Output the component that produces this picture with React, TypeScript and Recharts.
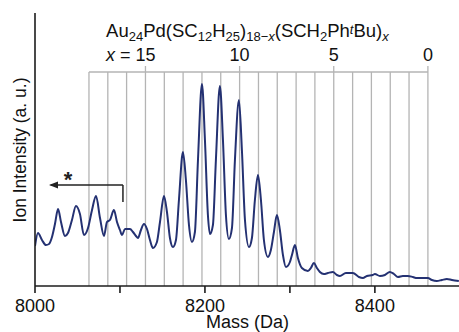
import React from 'react';
import { LineChart, Line, XAxis, YAxis, ReferenceLine, ReferenceDot } from 'recharts';

// Spectrum (mass in Da, intensity in arbitrary units)
const massValues = [
  8000, 8003.5, 8008.2, 8012.9, 8016.5, 8020, 8023.5, 8027.1, 8030.6, 8035.3,
  8038.8, 8043.5, 8048.2, 8052.9, 8057.6, 8062.4, 8067.1, 8071.8, 8076.5, 8081.2,
  8084.7, 8088.2, 8092.9, 8096.5, 8100, 8102.4, 8105.9, 8111.8, 8115.3, 8118.8,
  8121.2, 8124.7, 8128.2, 8131.8, 8135.3, 8138.8, 8143.5, 8147.1, 8151.8, 8155.3,
  8158.8, 8162.4, 8165.9, 8169.4, 8174.1, 8177.6, 8181.2, 8184.7, 8188.2, 8191.8,
  8196.5, 8200, 8203.5, 8205.9, 8209.4, 8212.9, 8217.6, 8221.2, 8224.7, 8228.2,
  8231.8, 8235.3, 8240, 8243.5, 8247.1, 8251.8, 8255.3, 8258.8, 8262.4, 8265.9,
  8269.4, 8274.1, 8277.6, 8281.2, 8284.7, 8288.2, 8291.8, 8295.3, 8300, 8302.4,
  8305.9, 8309.4, 8314.1, 8321.2, 8324.7, 8328.2, 8331.8, 8335.3, 8340, 8344.7,
  8350.6, 8355.3, 8358.8, 8365.9, 8374.1, 8381.2, 8385.9, 8390.6, 8397.6, 8400,
  8405.9, 8411.8, 8417.6, 8422.4, 8427.1, 8432.9, 8438.8, 8444.7, 8449.4, 8455.3,
  8462.4, 8467.1, 8472.9, 8478.8, 8484.7, 8490.6, 8498.8,
];
const intensityValues = [
  40, 53, 46, 41, 42, 49, 62, 77, 64, 50,
  53, 66, 80, 72, 51, 58, 76, 90, 68, 50,
  64, 66, 76, 64, 56, 51, 57, 57, 54, 50,
  48, 56, 62, 57, 46, 38, 44, 64, 90, 74,
  48, 39, 46, 86, 134, 106, 61, 44, 54, 126,
  202, 146, 71, 52, 61, 126, 200, 146, 71, 47,
  58, 126, 186, 136, 66, 39, 48, 86, 111, 86,
  46, 29, 36, 54, 71, 56, 31, 19, 24, 31,
  41, 28, 18, 15, 18, 23, 18, 14, 12, 13,
  14, 11, 10, 13, 13, 9, 8, 10, 11, 12,
  10, 11, 14, 12, 9, 10, 10, 9, 8, 8,
  8, 6, 5, 6, 7, 6, 5,
];

// Composition markers: x = number of SCH2PhtBu ligands, and the matching mass
const ligandCounts = [18, 17, 16, 15, 14, 13, 12, 11, 10, 9, 8, 7, 6, 5, 4, 3, 2, 1, 0];
const ligandMasses = [
  8063.5, 8085.7, 8107.8, 8130.0, 8152.2, 8174.3, 8196.5, 8218.6, 8240.8, 8263.0,
  8285.1, 8307.3, 8329.4, 8351.6, 8373.8, 8395.9, 8418.1, 8440.2, 8462.4,
];
const labeledCounts = [15, 10, 5, 0];

const xTicks = [8000, 8100, 8200, 8300, 8400];
const xTickLabels = ['8000', '', '8200', '', '8400'];

const data = massValues.map((m, i) => ({ mass: m, intensity: intensityValues[i] }));
const massOf = (c: number) => ligandMasses[ligandCounts.indexOf(c)];

const FONT = '"Liberation Sans", Arial, Helvetica, sans-serif';
const X_MIN = 8000;
const X_MAX = 8499;
const Y_MAX = 273;
const BRACKET_Y = 214;
const BRACKET_TICK_Y = 220;
const COUNT_LABEL_Y = 225;
const TITLE_Y = 249;
const TITLE_X = 8250;
const ARROW_Y = 101;
const ARROW_DROP_Y = 84;
const ARROW_FROM = 8103.5;
const ARROW_TO = 8016.5;
const STAR_X = 8038.8;

const GRAY = '#b4b4b4';
const FRAME = '#1c1c1c';

const countLabel = (count: number) => (p: any) => (
  <g>
    <text x={p.cx} y={p.cy} textAnchor="middle" fontSize={18} fontFamily={FONT} fill="#111">
      {String(count)}
    </text>
    {count === 15 ? (
      <text x={p.cx - 15} y={p.cy} textAnchor="end" fontSize={18} fontFamily={FONT} fill="#111">
        <tspan fontStyle="italic">x</tspan>
        <tspan> =</tspan>
      </text>
    ) : null}
  </g>
);

const titleShape = (p: any) => (
  <text x={p.cx} y={p.cy} textAnchor="middle" fontSize={18.5} fontFamily={FONT} fill="#111">
    <tspan>Au</tspan>
    <tspan fontSize={13} dy={4}>24</tspan>
    <tspan dy={-4}>Pd(SC</tspan>
    <tspan fontSize={13} dy={4}>12</tspan>
    <tspan dy={-4}>H</tspan>
    <tspan fontSize={13} dy={4}>25</tspan>
    <tspan dy={-4}>)</tspan>
    <tspan fontSize={13} dy={4}>18−</tspan>
    <tspan fontSize={13} fontStyle="italic">x</tspan>
    <tspan dy={-4}>(SCH</tspan>
    <tspan fontSize={13} dy={4}>2</tspan>
    <tspan dy={-4}>Ph</tspan>
    <tspan fontSize={13} fontStyle="italic" dy={-3}>t</tspan>
    <tspan dy={3}>Bu)</tspan>
    <tspan fontSize={13} fontStyle="italic" dy={4}>x</tspan>
  </text>
);

const arrowHead = (p: any) => (
  <polygon
    points={`${p.cx},${p.cy} ${p.cx + 9},${p.cy - 3.5} ${p.cx + 9},${p.cy + 3.5}`}
    fill="#222"
  />
);

const starShape = (p: any) => (
  <text x={p.cx} y={p.cy + 2} textAnchor="middle" fontSize={22} fontWeight="bold" fontFamily={FONT} fill="#222">
    *
  </text>
);

export default function App() {
  return (
    <div style={{ position: 'absolute', left: 0, top: 0, width: 459, height: 332, overflow: 'hidden', background: '#fff' }}>
      <LineChart width={459} height={332} data={data} margin={{ top: 13, right: 0, bottom: 0, left: 0 }}>
        <XAxis
          dataKey="mass"
          type="number"
          domain={[X_MIN, X_MAX]}
          ticks={xTicks}
          tickFormatter={(v: number) => xTickLabels[xTicks.indexOf(v)] ?? ''}
          height={46}
          tickSize={7}
          tickMargin={6}
          axisLine={{ stroke: FRAME, strokeWidth: 1.6 }}
          tickLine={{ stroke: FRAME, strokeWidth: 1.6 }}
          tick={{ fontSize: 18, fontFamily: FONT, fill: '#111' }}
          allowDataOverflow
          label={{
            content: () => (
              <text x={247.5} y={328} textAnchor="middle" fontSize={18} fontFamily={FONT} fill="#111">
                Mass (Da)
              </text>
            ),
          }}
        />
        <XAxis
          xAxisId="top"
          orientation="top"
          type="number"
          domain={[X_MIN, X_MAX]}
          height={0}
          tick={false}
          tickLine={false}
          axisLine={{ stroke: FRAME, strokeWidth: 1.6 }}
        />
        <YAxis
          type="number"
          domain={[0, Y_MAX]}
          width={35}
          tick={false}
          tickLine={false}
          axisLine={{ stroke: FRAME, strokeWidth: 1.6 }}
          label={{
            content: () => (
              <text
                x={26}
                y={150}
                textAnchor="middle"
                fontSize={17.5}
                fontFamily={FONT}
                fill="#111"
                transform="rotate(-90 26 150)"
              >
                Ion Intensity (a. u.)
              </text>
            ),
          }}
        />
        {ligandMasses.map((m) => (
          <ReferenceLine
            key={`g${m}`}
            segment={[{ x: m, y: 0 }, { x: m, y: BRACKET_Y }]}
            stroke={GRAY}
            strokeWidth={1.3}
          />
        ))}
        <ReferenceLine
          segment={[{ x: ligandMasses[0], y: BRACKET_Y }, { x: ligandMasses[ligandMasses.length - 1], y: BRACKET_Y }]}
          stroke={GRAY}
          strokeWidth={1.3}
        />
        {labeledCounts.map((c) => (
          <ReferenceLine
            key={`t${c}`}
            segment={[{ x: massOf(c), y: BRACKET_Y }, { x: massOf(c), y: BRACKET_TICK_Y }]}
            stroke={GRAY}
            strokeWidth={1.3}
          />
        ))}
        {labeledCounts.map((c) => (
          <ReferenceDot key={`l${c}`} x={massOf(c)} y={COUNT_LABEL_Y} r={0} ifOverflow="visible" shape={countLabel(c)} />
        ))}
        <ReferenceDot x={TITLE_X} y={TITLE_Y} r={0} ifOverflow="visible" shape={titleShape} />
        <Line
          type="monotone"
          dataKey="intensity"
          stroke="#243172"
          strokeWidth={2}
          dot={false}
          activeDot={false}
          isAnimationActive={false}
        />
        <ReferenceLine
          segment={[{ x: ARROW_FROM, y: ARROW_Y }, { x: ARROW_TO + 2, y: ARROW_Y }]}
          stroke="#222"
          strokeWidth={1.5}
        />
        <ReferenceLine
          segment={[{ x: ARROW_FROM, y: ARROW_Y }, { x: ARROW_FROM, y: ARROW_DROP_Y }]}
          stroke="#222"
          strokeWidth={1.5}
        />
        <ReferenceDot x={ARROW_TO} y={ARROW_Y} r={0} ifOverflow="visible" shape={arrowHead} />
        <ReferenceDot x={STAR_X} y={ARROW_Y} r={0} ifOverflow="visible" shape={starShape} />
      </LineChart>
    </div>
  );
}
